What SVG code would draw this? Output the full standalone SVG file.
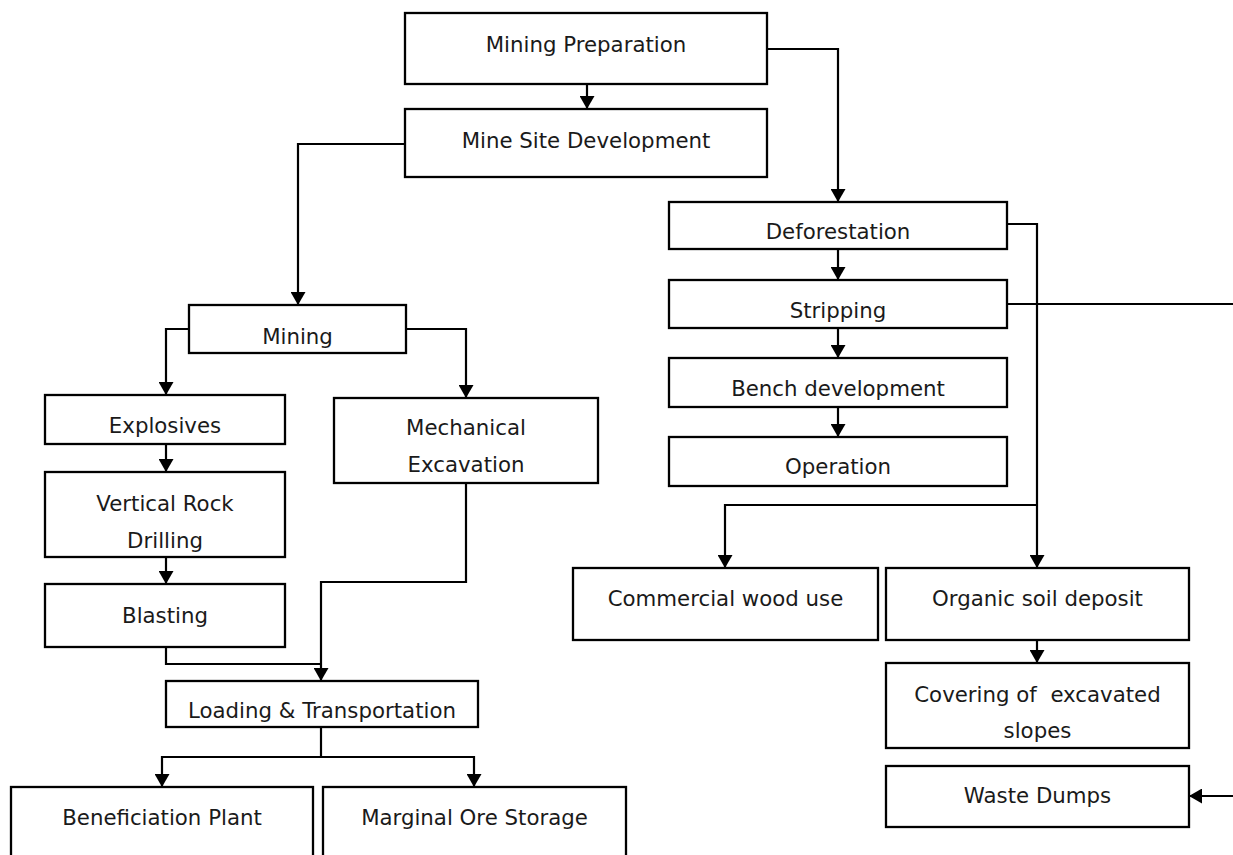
<svg xmlns="http://www.w3.org/2000/svg" width="1233" height="855" viewBox="0 0 1233 855">
<style>
.box{fill:#fff;stroke:#000;stroke-width:2.3}
.t{font-family:"DejaVu Sans",Verdana,sans-serif;font-size:21.3px;fill:#1a1a1a;text-anchor:middle}
.c{fill:none;stroke:#000;stroke-width:2.2}
</style>
<defs>
<marker id="ah" markerUnits="userSpaceOnUse" viewBox="0 -7.5 13 15" refX="13" refY="0" markerWidth="13" markerHeight="15" orient="auto">
<path d="M0,-7.5 L13,0 L0,7.5 z" fill="#000"/>
</marker>
</defs>
<rect width="1233" height="855" fill="#fff"/>
<g id="connectors">
<polyline class="c" points="587,84 587,109" marker-end="url(#ah)"/>
<polyline class="c" points="767,49 838,49 838,202" marker-end="url(#ah)"/>
<polyline class="c" points="405,144 298,144 298,305" marker-end="url(#ah)"/>
<polyline class="c" points="189,329 166,329 166,395" marker-end="url(#ah)"/>
<polyline class="c" points="406,329 466,329 466,398" marker-end="url(#ah)"/>
<polyline class="c" points="166,444 166,472" marker-end="url(#ah)"/>
<polyline class="c" points="166,557 166,584" marker-end="url(#ah)"/>
<polyline class="c" points="166,647 166,664 321,664"/>
<polyline class="c" points="466,483 466,582 321,582 321,681" marker-end="url(#ah)"/>
<polyline class="c" points="321,727 321,757"/>
<polyline class="c" points="321,757 162,757 162,787" marker-end="url(#ah)"/>
<polyline class="c" points="321,757 474,757 474,787" marker-end="url(#ah)"/>
<polyline class="c" points="838,249 838,280" marker-end="url(#ah)"/>
<polyline class="c" points="838,328 838,358" marker-end="url(#ah)"/>
<polyline class="c" points="838,407 838,437" marker-end="url(#ah)"/>
<polyline class="c" points="1007,224 1037,224 1037,568" marker-end="url(#ah)"/>
<polyline class="c" points="1037,505 725,505 725,568" marker-end="url(#ah)"/>
<polyline class="c" points="1007,304 1233,304"/>
<polyline class="c" points="1037,640 1037,663" marker-end="url(#ah)"/>
<polyline class="c" points="1233,796 1189,796" marker-end="url(#ah)"/>
</g>
<g id="mining-preparation"><rect class="box" x="405" y="13" width="362" height="71"/><text class="t" x="586" y="52">Mining Preparation</text></g>
<g id="mine-site-development"><rect class="box" x="405" y="109" width="362" height="68"/><text class="t" x="586" y="148">Mine Site Development</text></g>
<g id="mining"><rect class="box" x="189" y="305" width="217" height="48"/><text class="t" x="297.5" y="344">Mining</text></g>
<g id="explosives"><rect class="box" x="45" y="395" width="240" height="49"/><text class="t" x="165" y="433">Explosives</text></g>
<g id="vertical-rock-drilling"><rect class="box" x="45" y="472" width="240" height="85"/><text class="t" x="165" y="511">Vertical Rock</text><text class="t" x="165" y="548">Drilling</text></g>
<g id="blasting"><rect class="box" x="45" y="584" width="240" height="63"/><text class="t" x="165" y="623">Blasting</text></g>
<g id="mechanical-excavation"><rect class="box" x="334" y="398" width="264" height="85"/><text class="t" x="466" y="435">Mechanical</text><text class="t" x="466" y="472">Excavation</text></g>
<g id="loading-transportation"><rect class="box" x="166" y="681" width="312" height="46"/><text class="t" x="322" y="718">Loading &amp; Transportation</text></g>
<g id="beneficiation-plant"><rect class="box" x="11" y="787" width="302" height="90"/><text class="t" x="162" y="825">Beneficiation Plant</text></g>
<g id="marginal-ore-storage"><rect class="box" x="323" y="787" width="303" height="90"/><text class="t" x="474.5" y="825">Marginal Ore Storage</text></g>
<g id="deforestation"><rect class="box" x="669" y="202" width="338" height="47"/><text class="t" x="838" y="239">Deforestation</text></g>
<g id="stripping"><rect class="box" x="669" y="280" width="338" height="48"/><text class="t" x="838" y="318">Stripping</text></g>
<g id="bench-development"><rect class="box" x="669" y="358" width="338" height="49"/><text class="t" x="838" y="396">Bench development</text></g>
<g id="operation"><rect class="box" x="669" y="437" width="338" height="49"/><text class="t" x="838" y="474">Operation</text></g>
<g id="commercial-wood-use"><rect class="box" x="573" y="568" width="305" height="72"/><text class="t" x="725.5" y="606">Commercial wood use</text></g>
<g id="organic-soil-deposit"><rect class="box" x="886" y="568" width="303" height="72"/><text class="t" x="1037.5" y="606">Organic soil deposit</text></g>
<g id="covering-excavated-slopes"><rect class="box" x="886" y="663" width="303" height="85"/><text class="t" x="1037.5" y="702">Covering of&#160; excavated</text><text class="t" x="1037.5" y="738">slopes</text></g>
<g id="waste-dumps"><rect class="box" x="886" y="766" width="303" height="61"/><text class="t" x="1037.5" y="803">Waste Dumps</text></g>
</svg>
